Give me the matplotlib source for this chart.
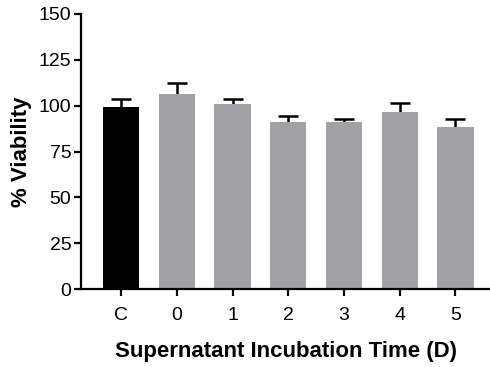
import matplotlib
matplotlib.use("Agg")
import matplotlib.pyplot as plt

categories = ["C", "0", "1", "2", "3", "4", "5"]
values = [99.5, 106.5, 101.0, 91.3, 91.0, 96.3, 88.2]
errors = [4.0, 6.0, 2.8, 2.8, 2.0, 5.0, 4.8]
colors = ["#000000", "#A2A2A6", "#A2A2A6", "#A2A2A6", "#A2A2A6", "#A2A2A6", "#A2A2A6"]
yticks = [0, 25, 50, 75, 100, 125, 150]

plt.rcParams['font.family'] = ['Liberation Sans', 'DejaVu Sans']

fig = plt.figure(figsize=(4.9, 3.67), dpi=100)
ax = fig.add_axes([81/490, 1 - 289/367, 1 - 81/490, (289 - 14)/367])

x = list(range(len(categories)))
ax.errorbar(x, values, yerr=errors, fmt="none",
            ecolor="black", elinewidth=1.8, capsize=7, capthick=1.8, zorder=1)
ax.bar(x, values, width=0.65, color=colors, zorder=2)

ax.set_xlim(-0.72, 6.62)
ax.set_ylim(0, 150)
ax.set_yticks(yticks)
ax.set_xticks(x)
ax.set_xticklabels(categories)

for s in ["top", "right"]:
    ax.spines[s].set_visible(False)
for s in ["left", "bottom"]:
    ax.spines[s].set_linewidth(1.6)
ax.tick_params(axis="both", width=1.6, length=5, labelsize=14)
ax.tick_params(axis="x", pad=8)
ax.tick_params(axis="y", pad=2)

ax.set_ylabel("% Viability", fontsize=16, fontweight="bold", labelpad=5)
ax.set_xlabel("Supernatant Incubation Time (D)", fontsize=16, fontweight="bold", labelpad=12)

fig.savefig("out.png", dpi=100)
